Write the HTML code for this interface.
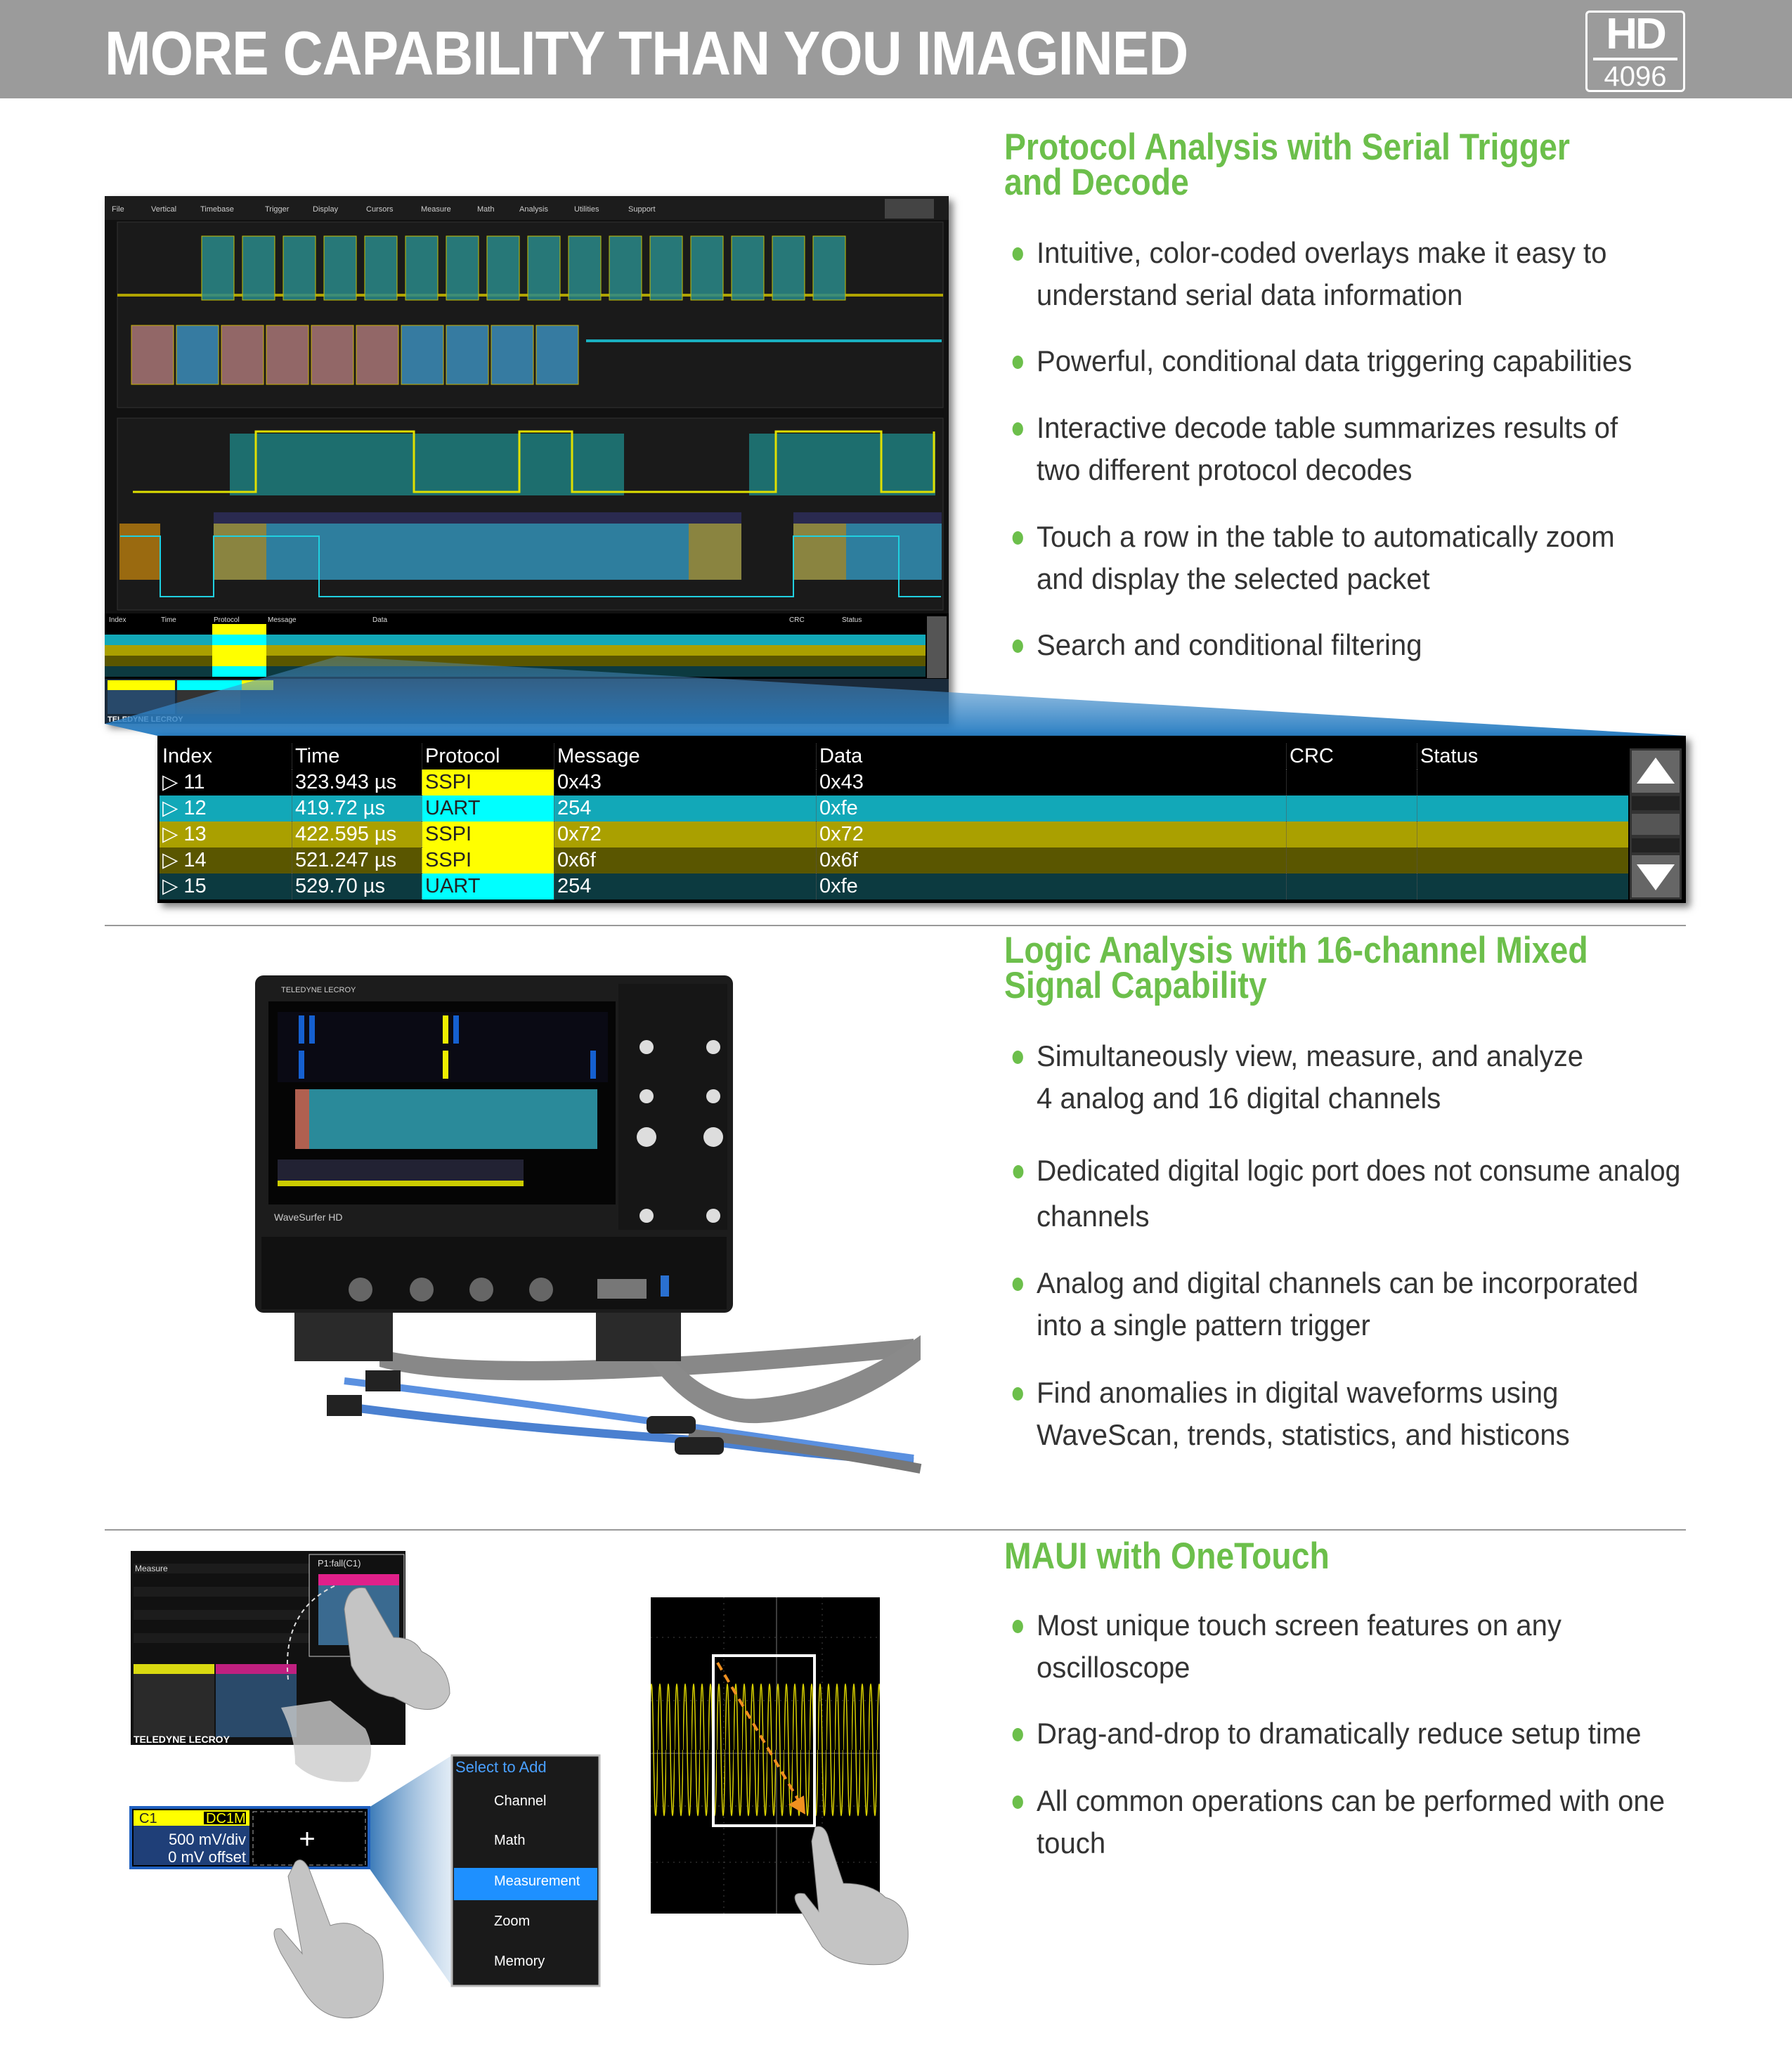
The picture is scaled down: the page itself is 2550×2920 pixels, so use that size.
<!DOCTYPE html>
<html><head><meta charset="utf-8"><style>
*{margin:0;padding:0;box-sizing:border-box}
body{width:2550px;height:2920px;background:#fff;position:relative;overflow:hidden;font-family:"Liberation Sans Narrow","Liberation Sans",sans-serif}
.a{position:absolute}
.hdr{left:0;top:0;width:2550px;height:140px;background:#9b9b9b}
.title{left:149px;top:26px;font-size:88px;font-weight:bold;color:#fff;letter-spacing:-1px;white-space:nowrap;line-height:100px;transform:scaleX(0.895);transform-origin:0 0}
.h2{color:#6cbf4b;font-weight:bold;font-size:53px;line-height:50px;left:1429px;white-space:nowrap;transform:scaleX(0.875);transform-origin:0 0}
.b{left:1475px;font-size:42px;line-height:60px;color:#333;white-space:nowrap;transform:scaleX(0.955);transform-origin:0 0}
.b::before{content:"";position:absolute;left:-36px;top:22px;width:16px;height:19px;border-radius:50%;background:#6cbf4b}
.b.nd::before{display:none}
.rule{left:149px;width:2250px;height:2px;background:#999}
.tbl{font-family:"Liberation Sans Narrow","Liberation Sans",sans-serif;font-size:29px;color:#fff}
.row{position:absolute;left:227px;width:2090px;height:37px;line-height:37px}
.c{position:absolute;top:0;height:37px;padding-left:4px;border-left:1px dotted #555}
</style></head><body>
<div class="a hdr"></div>
<div class="a title">MORE CAPABILITY THAN YOU IMAGINED</div>
<div class="a" style="left:2256px;top:15px;width:142px;height:116px;border:3px solid #fff;border-radius:6px;color:#fff;text-align:center;font-family:'Liberation Sans',sans-serif">
<div style="font-size:62px;font-weight:bold;line-height:62px;letter-spacing:-3px">HD</div>
<div style="height:4px;background:#fff;margin:2px 8px"></div>
<div style="font-size:40px;line-height:42px">4096</div></div>

<div class="a h2" style="top:185px">Protocol Analysis with Serial Trigger<br>and Decode</div>
<div class="a b" style="top:330px">Intuitive, color-coded overlays make it easy to<br>understand serial data information</div>
<div class="a b" style="top:484px">Powerful, conditional data triggering capabilities</div>
<div class="a b" style="top:579px">Interactive decode table summarizes results of<br>two different protocol decodes</div>
<div class="a b" style="top:734px">Touch a row in the table to automatically zoom<br>and display the selected packet</div>
<div class="a b" style="top:888px">Search and conditional filtering</div>

<svg class="a" style="left:149px;top:279px;box-shadow:6px 6px 10px rgba(0,0,0,.5)" width="1201" height="751" viewBox="0 0 1201 751">
<rect width="1201" height="751" fill="#111"/>
<rect width="1201" height="34" fill="#1c1c1c"/>
<g fill="#ccc" font-size="11" font-family="Liberation Sans Narrow,sans-serif">
<text x="10" y="22">File</text><text x="66" y="22">Vertical</text><text x="136" y="22">Timebase</text><text x="228" y="22">Trigger</text><text x="296" y="22">Display</text><text x="372" y="22">Cursors</text><text x="450" y="22">Measure</text><text x="530" y="22">Math</text><text x="590" y="22">Analysis</text><text x="668" y="22">Utilities</text><text x="745" y="22">Support</text></g>
<rect x="1110" y="4" width="70" height="28" fill="#444"/>
<rect x="18" y="37" width="1175" height="264" fill="#1a1a1a" stroke="#333"/>
<rect x="18" y="316" width="1175" height="273" fill="#1a1a1a" stroke="#333"/>
<line x1="18" y1="141" x2="1193" y2="141" stroke="#b0a400" stroke-width="4"/>
<g fill="#2a8a8a" fill-opacity=".85" stroke="#c8c000" stroke-width="1">
<rect x="138" y="57" width="46" height="91"/><rect x="196" y="57" width="46" height="91"/><rect x="254" y="57" width="46" height="91"/><rect x="312" y="57" width="46" height="91"/><rect x="370" y="57" width="46" height="91"/><rect x="428" y="57" width="46" height="91"/><rect x="486" y="57" width="46" height="91"/><rect x="544" y="57" width="46" height="91"/><rect x="602" y="57" width="46" height="91"/><rect x="660" y="57" width="46" height="91"/><rect x="718" y="57" width="46" height="91"/><rect x="776" y="57" width="46" height="91"/><rect x="834" y="57" width="46" height="91"/><rect x="892" y="57" width="46" height="91"/><rect x="950" y="57" width="46" height="91"/><rect x="1008" y="57" width="46" height="91"/></g>
<g fill="#3a86b0" fill-opacity=".9" stroke="#c8b000">
<rect x="38" y="184" width="60" height="84" fill="#a07070"/><rect x="102" y="184" width="60" height="84"/><rect x="166" y="184" width="60" height="84" fill="#a07070"/><rect x="230" y="184" width="60" height="84" fill="#a07070"/><rect x="294" y="184" width="60" height="84" fill="#a07070"/><rect x="358" y="184" width="60" height="84" fill="#a07070"/><rect x="422" y="184" width="60" height="84"/><rect x="486" y="184" width="60" height="84"/><rect x="550" y="184" width="60" height="84"/><rect x="614" y="184" width="60" height="84"/></g>
<line x1="685" y1="206" x2="1191" y2="206" stroke="#1ab0c0" stroke-width="4"/>
<g fill="#1d6e6e"><rect x="178" y="338" width="561" height="88"/><rect x="917" y="338" width="265" height="88"/></g>
<polyline points="40,421 215,421 215,335 440,335 440,421 590,421 590,335 665,335 665,421 955,421 955,335 1105,335 1105,421 1180,421 1180,335" fill="none" stroke="#e0e000" stroke-width="3"/>
<g><rect x="155" y="450" width="751" height="16" fill="#2a2a50"/><rect x="980" y="450" width="211" height="16" fill="#2a2a50"/>
<rect x="155" y="466" width="751" height="80" fill="#2e7e9e"/><rect x="980" y="466" width="211" height="80" fill="#2e7e9e"/>
<rect x="155" y="466" width="75" height="80" fill="#8a8440"/><rect x="831" y="466" width="75" height="80" fill="#8a8440"/><rect x="980" y="466" width="75" height="80" fill="#8a8440"/>
<rect x="21" y="466" width="58" height="80" fill="#9a6a10"/></g>
<polyline points="22,484 79,484 79,570 155,570 155,484 305,484 305,570 980,570 980,484 1130,484 1130,570 1190,570" fill="none" stroke="#20d0e0" stroke-width="2"/>
<rect x="0" y="594" width="1201" height="93" fill="#000"/>
<g font-size="10" fill="#ddd" font-family="Liberation Sans Narrow,sans-serif"><text x="6" y="606">Index</text><text x="80" y="606">Time</text><text x="155" y="606">Protocol</text><text x="232" y="606">Message</text><text x="381" y="606">Data</text><text x="974" y="606">CRC</text><text x="1049" y="606">Status</text></g>
<rect x="0" y="624" width="1168" height="15" fill="#12a8b8"/><rect x="0" y="639" width="1168" height="15" fill="#aaa000"/><rect x="0" y="654" width="1168" height="15" fill="#5a5600"/><rect x="0" y="669" width="1168" height="15" fill="#0c3a40"/>
<rect x="153" y="609" width="77" height="15" fill="#ff0"/><rect x="153" y="624" width="77" height="15" fill="#0ff"/><rect x="153" y="639" width="77" height="15" fill="#ff0"/><rect x="153" y="654" width="77" height="15" fill="#ff0"/><rect x="153" y="669" width="77" height="15" fill="#0ff"/>
<rect x="1170" y="598" width="28" height="88" fill="#555"/>
<rect x="0" y="687" width="1201" height="64" fill="#1a2a3a"/>
<rect x="4" y="689" width="96" height="14" fill="#ff0"/><rect x="103" y="689" width="96" height="14" fill="#0ff"/><rect x="195" y="689" width="45" height="14" fill="#ff0"/>
<rect x="4" y="703" width="96" height="34" fill="#28496a"/><rect x="103" y="703" width="90" height="34" fill="#333"/>
<text x="4" y="748" font-size="11" fill="#fff" font-weight="bold" font-family="Liberation Sans Narrow,sans-serif">TELEDYNE LECROY</text>
</svg>
<svg class="a" style="left:0;top:0" width="2550" height="1300">
<defs><linearGradient id="g1" x1="0" y1="0" x2="0" y2="1"><stop offset="0" stop-color="#5a9ad0" stop-opacity=".35"/><stop offset="1" stop-color="#1f78c0" stop-opacity=".95"/></linearGradient></defs>
<polygon points="480,934 149,1030 224,1047 2399,1047 1350,985" fill="url(#g1)"/>
</svg>

<div class="a tbl" style="left:224px;top:1047px;width:2175px;height:238px;background:#000;box-shadow:6px 6px 10px rgba(0,0,0,.5)"></div>
<div class="row tbl" style="top:1058px;background:#000"><div class="c" style="left:0;border:0">Index</div><div class="c" style="left:188px">Time</div><div class="c" style="left:373px">Protocol</div><div class="c" style="left:561px">Message</div><div class="c" style="left:934px">Data</div><div class="c" style="left:1603px">CRC</div><div class="c" style="left:1789px">Status</div></div>
<div class="row tbl" style="top:1095px;background:#000"><div class="c" style="left:0;border:0">&#9655; 11</div><div class="c" style="left:188px">323.943 µs</div><div class="c" style="left:373px;width:188px;background:#ff0;color:#222">SSPI</div><div class="c" style="left:561px">0x43</div><div class="c" style="left:934px">0x43</div><div class="c" style="left:1603px"></div><div class="c" style="left:1789px"></div></div>
<div class="row tbl" style="top:1132px;background:#12a8b8"><div class="c" style="left:0;border:0">&#9655; 12</div><div class="c" style="left:188px">419.72 µs</div><div class="c" style="left:373px;width:188px;background:#0ff;color:#222">UART</div><div class="c" style="left:561px">254</div><div class="c" style="left:934px">0xfe</div><div class="c" style="left:1603px"></div><div class="c" style="left:1789px"></div></div>
<div class="row tbl" style="top:1169px;background:#aaa000"><div class="c" style="left:0;border:0">&#9655; 13</div><div class="c" style="left:188px">422.595 µs</div><div class="c" style="left:373px;width:188px;background:#ff0;color:#222">SSPI</div><div class="c" style="left:561px">0x72</div><div class="c" style="left:934px">0x72</div><div class="c" style="left:1603px"></div><div class="c" style="left:1789px"></div></div>
<div class="row tbl" style="top:1206px;background:#5a5600"><div class="c" style="left:0;border:0">&#9655; 14</div><div class="c" style="left:188px">521.247 µs</div><div class="c" style="left:373px;width:188px;background:#ff0;color:#222">SSPI</div><div class="c" style="left:561px">0x6f</div><div class="c" style="left:934px">0x6f</div><div class="c" style="left:1603px"></div><div class="c" style="left:1789px"></div></div>
<div class="row tbl" style="top:1243px;background:#0c3a40"><div class="c" style="left:0;border:0">&#9655; 15</div><div class="c" style="left:188px">529.70 µs</div><div class="c" style="left:373px;width:188px;background:#0ff;color:#222">UART</div><div class="c" style="left:561px">254</div><div class="c" style="left:934px">0xfe</div><div class="c" style="left:1603px"></div><div class="c" style="left:1789px"></div></div>
<svg class="a" style="left:2319px;top:1065px" width="74" height="215">
<rect width="74" height="215" fill="#333"/><rect x="3" y="3" width="68" height="60" fill="#666"/><polygon points="37,13 64,50 10,50" fill="#fff"/>
<rect x="3" y="68" width="68" height="20" fill="#222"/><rect x="3" y="93" width="68" height="30" fill="#555"/><rect x="3" y="128" width="68" height="20" fill="#222"/>
<rect x="3" y="152" width="68" height="60" fill="#666"/><polygon points="10,165 64,165 37,202" fill="#fff"/></svg>

<div class="a rule" style="top:1316px"></div>

<div class="a h2" style="top:1328px">Logic Analysis with 16-channel Mixed<br>Signal Capability</div>
<div class="a b" style="top:1473px">Simultaneously view, measure, and analyze<br>4 analog and 16 digital channels</div>
<div class="a b" style="top:1636px;transform:scaleX(0.93)">Dedicated digital logic port does not consume analog</div>
<div class="a b nd" style="top:1701px">channels</div>
<div class="a b" style="top:1796px">Analog and digital channels can be incorporated<br>into a single pattern trigger</div>
<div class="a b" style="top:1952px">Find anomalies in digital waveforms using<br>WaveScan, trends, statistics, and histicons</div>

<svg class="a" style="left:340px;top:1380px" width="980" height="750" viewBox="340 1380 980 750">
<path d="M540,1920 Q700,1960 1300,1905 L1300,1930 Q700,1990 540,1945Z" fill="#888"/>
<path d="M900,1850 Q980,2000 1080,1990 Q1200,1980 1310,1900 L1310,1935 Q1200,2020 1080,2025 Q960,2030 880,1860Z" fill="#8a8a8a"/>
<path d="M480,2000 Q700,2030 1000,2050 Q1150,2070 1300,2080" stroke="#4a80d0" stroke-width="12" fill="none"/>
<path d="M490,1965 Q700,1990 980,2030 Q1150,2055 1300,2075" stroke="#5a90e0" stroke-width="10" fill="none"/>
<path d="M980,2040 Q1150,2060 1310,2090" stroke="#777" stroke-width="14" fill="none"/>
<rect x="465" y="1985" width="50" height="30" fill="#222"/><rect x="520" y="1950" width="50" height="30" fill="#222"/>
<rect x="920" y="2015" width="70" height="25" rx="8" fill="#222"/><rect x="960" y="2045" width="70" height="25" rx="8" fill="#222"/>
<rect x="419" y="1850" width="140" height="87" fill="#2a2a2a"/><rect x="848" y="1850" width="121" height="87" fill="#2a2a2a"/>
<rect x="363" y="1388" width="680" height="480" rx="12" fill="#1c1c1c"/>
<rect x="372" y="1760" width="662" height="103" fill="#111"/>
<rect x="382" y="1425" width="494" height="289" fill="#050505"/>
<rect x="395" y="1440" width="470" height="100" fill="#0a0a14"/>
<rect x="425" y="1445" width="8" height="40" fill="#1560d0"/><rect x="440" y="1445" width="8" height="40" fill="#1560d0"/><rect x="630" y="1445" width="8" height="40" fill="#ee0"/><rect x="645" y="1445" width="8" height="40" fill="#1560d0"/>
<rect x="425" y="1495" width="8" height="40" fill="#1560d0"/><rect x="630" y="1495" width="8" height="40" fill="#ee0"/><rect x="840" y="1495" width="8" height="40" fill="#1560d0"/>
<rect x="420" y="1550" width="430" height="85" fill="#2a8a9a"/><rect x="420" y="1550" width="20" height="85" fill="#b06050"/>
<rect x="395" y="1650" width="350" height="30" fill="#223"/><rect x="395" y="1680" width="350" height="8" fill="#cc0"/>
<rect x="880" y="1400" width="155" height="350" fill="#161616"/>
<g fill="#ddd"><circle cx="920" cy="1490" r="10"/><circle cx="1015" cy="1490" r="10"/><circle cx="920" cy="1560" r="10"/><circle cx="1015" cy="1560" r="10"/><circle cx="920" cy="1618" r="14"/><circle cx="1015" cy="1618" r="14"/><circle cx="920" cy="1730" r="10"/><circle cx="1015" cy="1730" r="10"/></g>
<g fill="#666"><circle cx="513" cy="1835" r="17"/><circle cx="600" cy="1835" r="17"/><circle cx="685" cy="1835" r="17"/><circle cx="770" cy="1835" r="17"/></g>
<rect x="850" y="1820" width="70" height="28" fill="#777"/><rect x="940" y="1815" width="12" height="30" fill="#2a70d0"/>
<text x="390" y="1737" fill="#ccc" font-size="14" font-family="Liberation Sans Narrow,sans-serif">WaveSurfer HD</text>
<text x="400" y="1412" fill="#ccc" font-size="11" font-family="Liberation Sans Narrow,sans-serif">TELEDYNE LECROY</text>
</svg>

<div class="a rule" style="top:2176px"></div>

<div class="a h2" style="top:2190px">MAUI with OneTouch</div>
<div class="a b" style="top:2283px">Most unique touch screen features on any<br>oscilloscope</div>
<div class="a b" style="top:2437px">Drag-and-drop to dramatically reduce setup time</div>
<div class="a b" style="top:2533px">All common operations can be performed with one<br>touch</div>

<svg class="a" style="left:0;top:2190px" width="1320" height="700" viewBox="0 2190 1320 700">
<defs><linearGradient id="g2" x1="0" y1="0" x2="1" y2="0"><stop offset="0" stop-color="#3a7ab8"/><stop offset="1" stop-color="#cfe0f0" stop-opacity=".6"/></linearGradient>
<pattern id="sw" x="0" y="2385" width="12" height="210" patternUnits="userSpaceOnUse"><path d="M0,105 C2,-20 4,-20 6,105 C8,230 10,230 12,105" stroke="#d8d000" stroke-width="1.5" fill="none"/></pattern></defs>
<rect x="186" y="2207" width="391" height="276" fill="#111"/>
<g fill="#1c1c1c"><rect x="190" y="2225" width="250" height="14"/><rect x="190" y="2258" width="250" height="14"/><rect x="190" y="2291" width="250" height="14"/><rect x="190" y="2324" width="250" height="14"/></g>
<text x="192" y="2236" font-size="12" fill="#ddd" font-family="Liberation Sans Narrow,sans-serif">Measure</text>
<rect x="440" y="2212" width="135" height="145" fill="none" stroke="#ccc"/>
<text x="452" y="2229" font-size="13" fill="#ddd" font-family="Liberation Sans Narrow,sans-serif">P1:fall(C1)</text>
<rect x="453" y="2240" width="115" height="16" fill="#e0208a"/><rect x="453" y="2256" width="115" height="85" fill="#3a6a90"/>
<rect x="190" y="2368" width="115" height="14" fill="#dada10"/><rect x="307" y="2368" width="115" height="14" fill="#c02080"/>
<rect x="190" y="2382" width="115" height="90" fill="#2a2a2a"/><rect x="307" y="2382" width="115" height="90" fill="#2a4a6a"/>
<text x="190" y="2480" font-size="14" font-weight="bold" fill="#fff" font-family="Liberation Sans Narrow,sans-serif">TELEDYNE LECROY</text>
<path d="M410,2390 Q400,2290 480,2255" stroke="#ddd" stroke-dasharray="6,5" stroke-width="2" fill="none"/>
<path d="M520,2260 L560,2330 Q590,2330 600,2350 Q640,2370 640,2410 Q630,2440 590,2430 L560,2415 Q520,2410 500,2370 L490,2290 Q495,2255 520,2260Z" fill="#c4c4c4" stroke="#888"/>
<path d="M400,2430 Q420,2470 420,2510 Q450,2540 510,2535 Q540,2500 520,2460 L470,2420Z" fill="#ccc" opacity=".8"/>
<polygon points="525,2572 643,2498 643,2826 525,2658" fill="url(#g2)"/>
<rect x="186" y="2572" width="339" height="86" fill="#000" stroke="#2060c0" stroke-width="4"/>
<rect x="190" y="2576" width="165" height="22" fill="#ffff00"/><rect x="290" y="2578" width="60" height="18" fill="#000"/>
<rect x="190" y="2598" width="165" height="56" fill="#1f3f78"/>
<rect x="360" y="2578" width="160" height="76" fill="#000" stroke="#aaa" stroke-dasharray="6,4"/>
<g font-family="Liberation Sans Narrow,sans-serif"><text x="198" y="2594" font-size="20" fill="#222">C1</text><text x="293" y="2594" font-size="20" fill="#ff0">DC1M</text>
<text x="350" y="2625" font-size="22" fill="#fff" text-anchor="end">500 mV/div</text><text x="350" y="2650" font-size="22" fill="#fff" text-anchor="end">0 mV offset</text>
<text x="437" y="2630" font-size="40" fill="#fff" text-anchor="middle">+</text></g>
<path d="M420,2650 Q430,2640 440,2660 L470,2740 Q500,2730 520,2750 Q545,2760 545,2800 Q550,2860 510,2870 Q460,2880 430,2830 L400,2780 Q380,2740 400,2745 L430,2780 L410,2670Z" fill="#c4c4c4" stroke="#888"/>
<rect x="643" y="2498" width="210" height="328" fill="#1a1a1a" stroke="#bbb" stroke-width="3"/>
<rect x="646" y="2658" width="204" height="46" fill="#1e90ff"/>
<g font-family="Liberation Sans Narrow,sans-serif" font-size="20" fill="#fff">
<text x="648" y="2522" fill="#4aa0ff" font-size="22">Select to Add</text>
<text x="703" y="2569">Channel</text><text x="703" y="2625">Math</text><text x="703" y="2683">Measurement</text><text x="703" y="2740">Zoom</text><text x="703" y="2797">Memory</text></g>
<rect x="926" y="2273" width="326" height="450" fill="#000"/>
<g stroke="#444" stroke-dasharray="2,6"><line x1="926" y1="2330" x2="1252" y2="2330"/><line x1="926" y1="2420" x2="1252" y2="2420"/><line x1="926" y1="2570" x2="1252" y2="2570"/><line x1="926" y1="2650" x2="1252" y2="2650"/><line x1="1030" y1="2273" x2="1030" y2="2723"/><line x1="1170" y1="2273" x2="1170" y2="2723"/></g>
<line x1="1105" y1="2273" x2="1105" y2="2723" stroke="#777"/><line x1="926" y1="2495" x2="1252" y2="2495" stroke="#777"/>
<rect x="926" y="2385" width="326" height="210" fill="url(#sw)"/>
<rect x="1015" y="2356" width="144" height="242" fill="none" stroke="#fff" stroke-width="4"/>
<line x1="1021" y1="2366" x2="1138" y2="2565" stroke="#f09020" stroke-width="4" stroke-dasharray="12,8"/>
<polygon points="1146,2582 1122,2568 1144,2555" fill="#f09020"/>
<path d="M1160,2600 Q1175,2595 1180,2620 L1200,2680 Q1240,2680 1260,2700 Q1295,2710 1292,2760 Q1290,2790 1260,2795 Q1200,2800 1170,2770 L1140,2720 Q1120,2690 1145,2695 L1165,2720 L1155,2620Z" fill="#c4c4c4" stroke="#888"/>
</svg>
</body></html>
